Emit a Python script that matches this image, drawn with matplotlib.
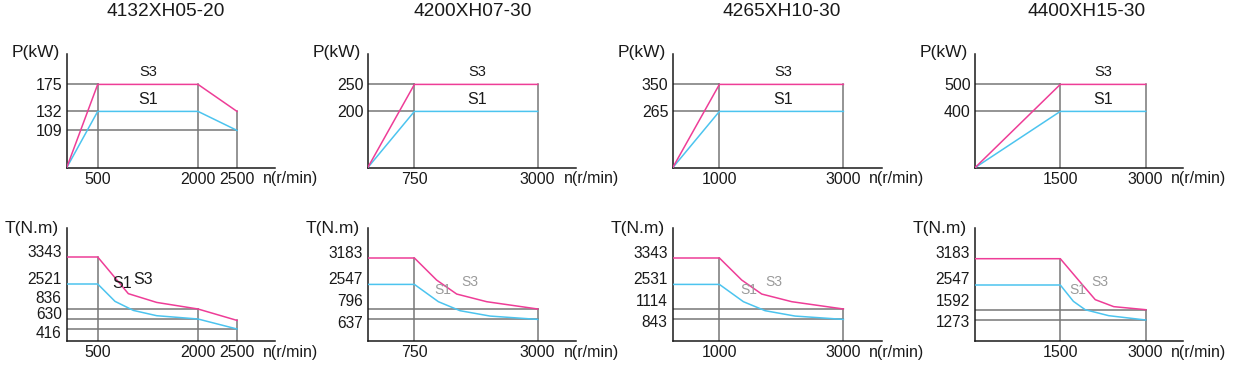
import numpy as np
import matplotlib
matplotlib.use("Agg")
import matplotlib.pyplot as plt

plt.rcParams['font.family'] = ['Liberation Sans', 'DejaVu Sans']

# ---- data -------------------------------------------------------------
models = ["4132XH05-20", "4200XH07-30", "4265XH10-30", "4400XH15-30"]

# rated speeds shown on the x axis (r/min)
rpm_ticks = [[500, 2000, 2500], [750, 3000], [1000, 3000], [1500, 3000]]

# power curves P(kW) vs n(r/min)
p_rpm = [[0, 500, 2000, 2500], [0, 750, 3000], [0, 1000, 3000], [0, 1500, 3000]]
p_s3 = [[0, 175, 175, 132], [0, 250, 250], [0, 350, 350], [0, 500, 500]]
p_s1 = [[0, 132, 132, 109], [0, 200, 200], [0, 265, 265], [0, 400, 400]]
p_ticks = [[175, 132, 109], [250, 200], [350, 265], [500, 400]]

# torque curves T(N.m) vs n(r/min)
t_s3_rpm = [[0, 500, 958, 1382, 2000, 2500], [0, 750, 1157, 1522, 2070, 3000],
            [0, 1000, 1360, 1683, 2167, 3000], [0, 1500, 1878, 2114, 2439, 3000]]
t_s3 = [[3343, 3343, 1870, 1280, 836, 504], [3183, 3183, 2650, 1860, 1315, 796],
        [3343, 3343, 2665, 1975, 1535, 1114], [3183, 3183, 2570, 1980, 1710, 1592]]
t_s1_rpm = [[0, 500, 759, 1033, 1382, 2000, 2500], [0, 750, 1188, 1583, 2130, 3000],
            [0, 1000, 1387, 1737, 2220, 3000], [0, 1500, 1730, 1937, 2350, 3000]]
t_s1 = [[2521, 2521, 1350, 807, 698, 630, 416], [2547, 2547, 1315, 770, 688, 637],
        [2531, 2531, 1535, 1070, 930, 843], [2547, 2547, 1915, 1592, 1407, 1273]]
t_ticks = [[3343, 2521, 836, 630, 416], [3183, 2547, 796, 637],
           [3343, 2531, 1114, 843], [3183, 2547, 1592, 1273]]

# ---- layout (pixels) -------------------------------------------------
W, H = 1237, 368
origin_x = [66.7, 367.7, 672.7, 975.0]
x_len = [208.3, 208.3, 209.0, 208.3]
x_pos = [[0, 31.0, 131.3, 170.3], [0, 46.7, 170.0], [0, 46.7, 170.7], [0, 85.3, 170.7]]
title_x = [166, 473, 782, 1087]

top_base, top_h = 167.7, 113.7
p_pos = [[0, 37.3, 56.3, 83.3], [0, 56.3, 83.3], [0, 56.3, 83.3], [0, 56.3, 83.3]]

bot_base, bot_h = 340.7, 112.4
t_vals = [[0, 416, 504, 630, 836, 2521, 3343], [0, 637, 796, 2547, 3183],
          [0, 843, 1114, 2531, 3343], [0, 1273, 1592, 2547, 3183]]
t_pos = [[0, 11.7, 20.3, 21.7, 31.7, 56.7, 83.7], [0, 21.3, 31.7, 56.3, 82.7],
         [0, 21.3, 31.7, 56.3, 82.7], [0, 20.7, 31.0, 55.7, 82.0]]
t_label_y = [[252.7, 279.3, 298.3, 314.3, 334.0], [253.3, 280, 301.7, 323.3],
             [253.3, 280, 301.7, 322.7], [253.3, 280, 301.7, 322.7]]

s_top_xy = [(148, 72, 148, 99), (477, 72, 477, 99), (783, 72, 783, 99), (1103, 72, 1103, 99)]
s_bot_xy = [(122, 284, 143, 279), (443, 290, 470, 282), (749, 290, 774, 282), (1078, 290, 1100, 282)]

PINK = '#EE3D97'
BLUE = '#4CC4EF'
GUIDE = '#777777'
INK = '#1a1a1a'
LW = 1.1
TICK_FS = 11.5


def piecewise(vals, pos):
    vals = np.asarray(vals, float)
    pos = np.asarray(pos, float)

    def make(a, b):
        lo = (b[1] - b[0]) / (a[1] - a[0])
        hi = (b[-1] - b[-2]) / (a[-1] - a[-2])

        def f(v):
            v = np.asarray(v, float)
            out = np.interp(v, a, b)
            out = np.where(v > a[-1], b[-1] + (v - a[-1]) * hi, out)
            out = np.where(v < a[0], b[0] + (v - a[0]) * lo, out)
            return out
        return f
    return make(vals, pos), make(pos, vals)


def ftext(x, y, s, **kw):
    fig.text(x / W, 1 - y / H, s, **kw)


def make_axes(ox, base, w, h, xv, xp, yv, yp):
    ax = fig.add_axes([ox / W, 1 - base / H, w / W, h / H])
    fx, ix = piecewise(xv, xp)
    fy, iy = piecewise(yv, yp)
    ax.set_xscale('function', functions=(fx, ix))
    ax.set_yscale('function', functions=(fy, iy))
    ax.set_xlim(ix(0), ix(w))
    ax.set_ylim(iy(0), iy(h))
    for side in ['top', 'right']:
        ax.spines[side].set_visible(False)
    for side in ['left', 'bottom']:
        ax.spines[side].set_color(INK)
        ax.spines[side].set_linewidth(LW)
    ax.tick_params(length=0, labelsize=TICK_FS, colors=INK)
    ax.patch.set_alpha(0)
    return ax


def draw_guides(ax, levels, rpms, curves, pick=min):
    # horizontal guides run from the axis to where a curve meets the level
    for lv in levels:
        ends = [r for rr, vv in curves for r, v in zip(rr, vv) if v == lv and r > 0]
        if ends:
            ax.plot([0, pick(ends)], [lv, lv], color=GUIDE, lw=LW, zorder=1)
    # vertical guides go up to the S3 curve
    rr, vv = curves[0]
    for r in rpms:
        top = np.interp(r, rr, vv)
        ax.plot([r, r], [0, top], color=GUIDE, lw=LW, zorder=1)


fig = plt.figure(figsize=(W / 100, H / 100), dpi=100)

for i in range(4):
    ox = origin_x[i]
    xv = [0] + rpm_ticks[i]

    # ---- power panel
    ax = make_axes(ox, top_base, x_len[i], top_h, xv, x_pos[i],
                   [0] + sorted(p_ticks[i]), p_pos[i])
    draw_guides(ax, p_ticks[i], rpm_ticks[i], [(p_rpm[i], p_s3[i]), (p_rpm[i], p_s1[i])])
    ax.plot(p_rpm[i], p_s1[i], color=BLUE, lw=LW, zorder=3)
    ax.plot(p_rpm[i], p_s3[i], color=PINK, lw=LW, zorder=3)
    ax.set_xticks(rpm_ticks[i], [str(v) for v in rpm_ticks[i]])
    ax.set_yticks(p_ticks[i], [str(v) for v in p_ticks[i]])
    ax.tick_params(axis='x', pad=3)
    ax.tick_params(axis='y', pad=3)
    ax.minorticks_off()

    ftext(title_x[i], 12, models[i], ha='center', va='center', fontsize=13.8, color=INK)
    ftext(ox - 7, 52, 'P(kW)', ha='right', va='center', fontsize=12.5, color=INK)
    ftext(ox + 196, 178, 'n(r/min)', ha='left', va='center', fontsize=TICK_FS, color=INK)
    sx3, sy3, sx1, sy1 = s_top_xy[i]
    ftext(sx3, sy3, 'S3', ha='center', va='center', fontsize=10.5, color=INK)
    ftext(sx1, sy1, 'S1', ha='center', va='center', fontsize=11.5, color=INK)

    # ---- torque panel
    ax = make_axes(ox, bot_base, x_len[i], bot_h, xv, x_pos[i], t_vals[i], t_pos[i])
    low = [v for v in t_ticks[i] if v < min(t_s1[i][0], t_s3[i][0])]
    draw_guides(ax, low, rpm_ticks[i], [(t_s3_rpm[i], t_s3[i]), (t_s1_rpm[i], t_s1[i])], pick=max)
    ax.plot(t_s1_rpm[i], t_s1[i], color=BLUE, lw=LW, zorder=3)
    ax.plot(t_s3_rpm[i], t_s3[i], color=PINK, lw=LW, zorder=3)
    ax.set_xticks(rpm_ticks[i], [str(v) for v in rpm_ticks[i]])
    ax.set_yticks([])
    ax.tick_params(axis='x', pad=3)
    ax.minorticks_off()

    for v, y in zip(t_ticks[i], t_label_y[i]):
        ftext(ox - 5, y, str(v), ha='right', va='center', fontsize=11.2, color=INK)
    ftext(ox - 8, 228, 'T(N.m)', ha='right', va='center', fontsize=12.5, color=INK)
    ftext(ox + 196, 353, 'n(r/min)', ha='left', va='center', fontsize=TICK_FS, color=INK)
    sx1, sy1, sx3, sy3 = s_bot_xy[i]
    lab_col = INK if i == 0 else '#9a9a9a'
    lab_fs = 11.5 if i == 0 else 10
    ftext(sx1, sy1, 'S1', ha='center', va='center', fontsize=lab_fs, color=lab_col)
    ftext(sx3, sy3, 'S3', ha='center', va='center', fontsize=lab_fs, color=lab_col)

fig.savefig('out.png', dpi=100)
